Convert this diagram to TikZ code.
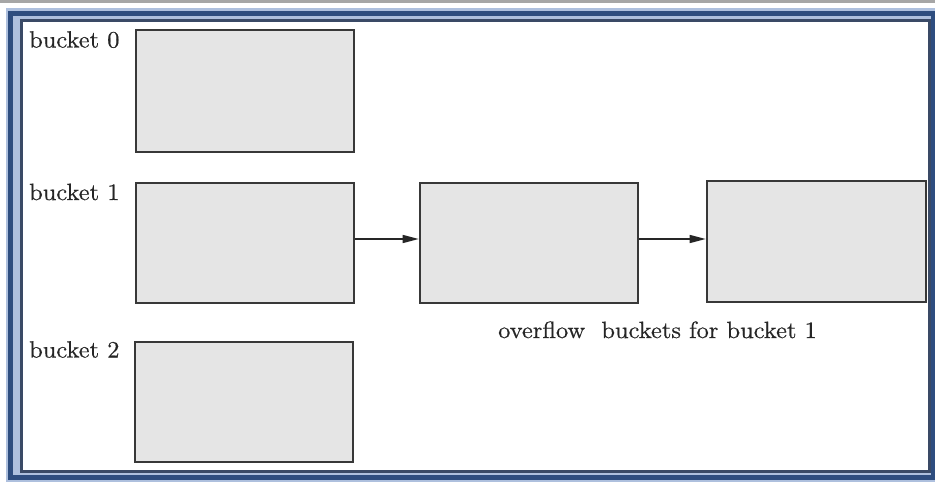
\documentclass[tikz,border=0pt]{standalone}
\usepackage{fontspec}
\usetikzlibrary{arrows.meta}
\newfontfamily\lblfont{lmroman10-regular.otf}[FakeStretch=1.04,FakeBold=0.5]
\definecolor{frameDark}{HTML}{2E4D7F}
\definecolor{frameInner}{HTML}{3A4A66}
\definecolor{frameLight}{HTML}{AEC0DE}
\definecolor{boxFill}{HTML}{E5E5E5}
\definecolor{boxLine}{HTML}{383838}
\definecolor{txt}{HTML}{262626}
\tikzset{
  bucketbox/.style={draw=boxLine, fill=boxFill, line width=2.6pt, rectangle, inner sep=0pt},
  lbl/.style={anchor=base west, inner sep=0pt, text=txt, font=\lblfont\fontsize{23.5}{28}\selectfont},
  arr/.style={draw=black!85, line width=1.4pt, -{Triangle[length=16pt,width=8pt]}}
}
\begin{document}
\begin{tikzpicture}[x=1pt,y=-1pt]
\useasboundingbox (0,0) rectangle (935,482);
% background and frame
\fill[white] (0,0) rectangle (935,482);
\fill[gray!70] (0,0) rectangle (935,2.5);
\fill[frameLight] (6,8) rectangle (935,482);
\draw[frameDark, line width=5pt] (10.5,13.5) rectangle (933.5,477);
\draw[frameInner, line width=3pt] (21,20.5) rectangle (929,471.5);
\fill[white] (22.5,22) rectangle (927.5,470);
% buckets
\node[bucketbox, minimum width=218pt, minimum height=122pt] (b0) at (245,91) {};
\node[bucketbox, minimum width=218pt, minimum height=120pt] (b1) at (245,243) {};
\node[bucketbox, minimum width=218pt, minimum height=120pt] (b2) at (244,402) {};
\node[bucketbox, minimum width=218pt, minimum height=120pt] (o1) at (529,243) {};
\node[bucketbox, minimum width=219pt, minimum height=121pt] (o2) at (816.5,241.5) {};
% labels
\node[lbl] (l0) at (29,47.5) {bucket 0};
\node[lbl] (l1) at (29,200) {bucket 1};
\node[lbl] (l2) at (29,357.5) {bucket 2};
\node[lbl] (ov) at (498,338) {overflow\ \ buckets for bucket 1};
% arrows
\draw[arr] ([yshift=4pt]b1.east) -- ([yshift=4pt]o1.west);
\draw[arr] ([yshift=4pt]o1.east) -- ([yshift=4pt]o1.east -| o2.west);
\end{tikzpicture}
\end{document}
